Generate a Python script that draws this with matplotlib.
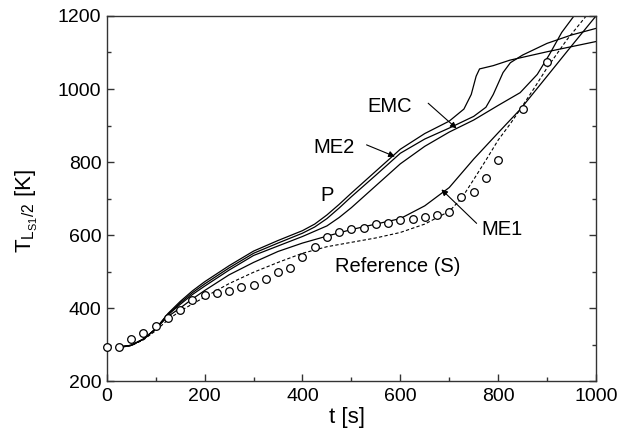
import numpy as np
import matplotlib.pyplot as plt

plt.rcParams['font.family'] = ['Liberation Sans', 'DejaVu Sans']
plt.rcParams['mathtext.fontset'] = 'custom'
plt.rcParams['mathtext.rm'] = 'Liberation Sans'
plt.rcParams['mathtext.it'] = 'Liberation Sans'
plt.rcParams['mathtext.default'] = 'regular'

# measured temperatures (open circles)
t_ref = [0, 25, 50, 75, 100, 125, 150, 175, 200, 225, 250, 275, 300, 325, 350,
         375, 400, 425, 450, 475, 500, 525, 550, 575, 600, 625, 650, 675, 700,
         725, 750, 775, 800, 850, 900]
T_ref = [294, 294, 314, 332, 351, 374, 394, 422, 436, 440, 447, 457, 462, 479,
         499, 511, 539, 568, 595, 609, 616, 620, 630, 634, 640, 644, 650, 655,
         664, 705, 718, 755, 805, 944, 1073]

# Reference (S), dashed
t_s = [20, 50, 75, 100, 125, 150, 200, 250, 300, 350, 400, 450, 500, 550, 600,
       650, 700, 725, 750, 775, 800, 825, 845, 875, 900, 940, 980, 1000]
T_s = [290, 297, 313, 338, 368, 392, 430, 467, 498, 525, 550, 568, 580, 592,
       607, 630, 665, 700, 752, 805, 860, 905, 944, 1005, 1058, 1134, 1200, 1230]

# P
t_p = [20, 50, 75, 100, 125, 150, 175, 200, 250, 300, 350, 400, 425, 450, 475,
       500, 550, 600, 650, 700, 730, 745, 755, 762, 790, 824, 900, 1000]
T_p = [292, 298, 315, 343, 385, 418, 447, 472, 516, 556, 585, 612, 630, 655,
       684, 715, 775, 835, 878, 912, 945, 985, 1035, 1055, 1064, 1079, 1102,
       1130]

# ME2
t_me2 = [20, 50, 75, 100, 125, 150, 175, 200, 250, 300, 350, 400, 425, 450,
         475, 500, 550, 600, 650, 700, 750, 775, 790, 800, 810, 825, 850, 900,
         950, 1000]
T_me2 = [292, 298, 315, 343, 383, 414, 442, 466, 510, 550, 578, 605, 622, 645,
         674, 705, 764, 824, 863, 893, 925, 950, 985, 1015, 1045, 1072, 1093,
         1125, 1148, 1166]

# EMC
t_emc = [20, 50, 75, 100, 125, 150, 175, 200, 250, 300, 350, 400, 450, 475,
         500, 550, 600, 650, 700, 750, 800, 845, 880, 905, 930, 955, 970]
T_emc = [292, 298, 315, 343, 381, 410, 437, 460, 504, 544, 570, 596, 625, 648,
         675, 735, 795, 843, 882, 915, 955, 990, 1040, 1095, 1155, 1200, 1230]

# ME1
t_me1 = [20, 50, 75, 100, 125, 150, 175, 200, 250, 300, 350, 400, 450, 500,
         550, 600, 650, 700, 750, 800, 845, 900, 950, 1000]
T_me1 = [292, 298, 315, 343, 377, 400, 425, 448, 491, 525, 555, 578, 597, 615,
         630, 645, 680, 730, 808, 880, 944, 1035, 1118, 1200]

fig = plt.figure(figsize=(6.32, 4.38), dpi=100)
ax = fig.add_axes([0.169, 0.130, 0.774, 0.8335])

lw = 0.9
ax.plot(t_p, T_p, color='black', lw=lw)
ax.plot(t_me2, T_me2, color='black', lw=lw)
ax.plot(t_emc, T_emc, color='black', lw=lw)
ax.plot(t_me1, T_me1, color='black', lw=lw)
ax.plot(t_s, T_s, color='black', lw=0.8, linestyle=(0, (3, 2)))
ax.plot(t_ref, T_ref, linestyle='none', marker='o', ms=5.5, mfc='white',
        mec='black', mew=0.9, zorder=5, clip_on=False)

ax.set_xlim(0, 1000)
ax.set_ylim(200, 1200)
ax.set_xticks(np.arange(0, 1001, 200))
ax.set_xticks(np.arange(0, 1001, 100), minor=True)
ax.set_yticks(np.arange(200, 1201, 200))
ax.set_yticks(np.arange(200, 1201, 100), minor=True)
ax.tick_params(which='both', direction='in', top=False, right=True,
               labelsize=14, colors='#333333', labelcolor='black')
ax.tick_params(which='major', length=5, width=1.0)
ax.tick_params(which='minor', length=3, width=1.0)
ax.tick_params(axis='x', pad=5)
ax.tick_params(axis='y', pad=4)
for s in ax.spines.values():
    s.set_color('#333333')
    s.set_linewidth(1.0)

ax.set_xlabel('t [s]', fontsize=16)
ax.xaxis.set_label_coords(0.49, -0.072)
ax.set_ylabel(r'T$_{L_{S1}/2}$ [K]', fontsize=16)
ax.yaxis.set_label_coords(-0.137, 0.465)

fs = 14.5
arr = dict(arrowstyle='-|>', color='black', lw=0.8, mutation_scale=9,
           shrinkA=0, shrinkB=0)
ax.text(579, 953, 'EMC', fontsize=fs, ha='center', va='center')
ax.annotate('', xy=(715, 892), xytext=(657, 961), arrowprops=arr)
ax.text(464, 840, 'ME2', fontsize=fs, ha='center', va='center')
ax.annotate('', xy=(589, 815), xytext=(531, 847), arrowprops=arr)
ax.text(450, 707, 'P', fontsize=fs, ha='center', va='center')
ax.text(808, 615, 'ME1', fontsize=fs, ha='center', va='center')
ax.annotate('', xy=(684, 725), xytext=(756, 632), arrowprops=arr)
ax.text(594, 515, 'Reference (S)', fontsize=fs, ha='center', va='center')

fig.savefig('out.png', dpi=100)
